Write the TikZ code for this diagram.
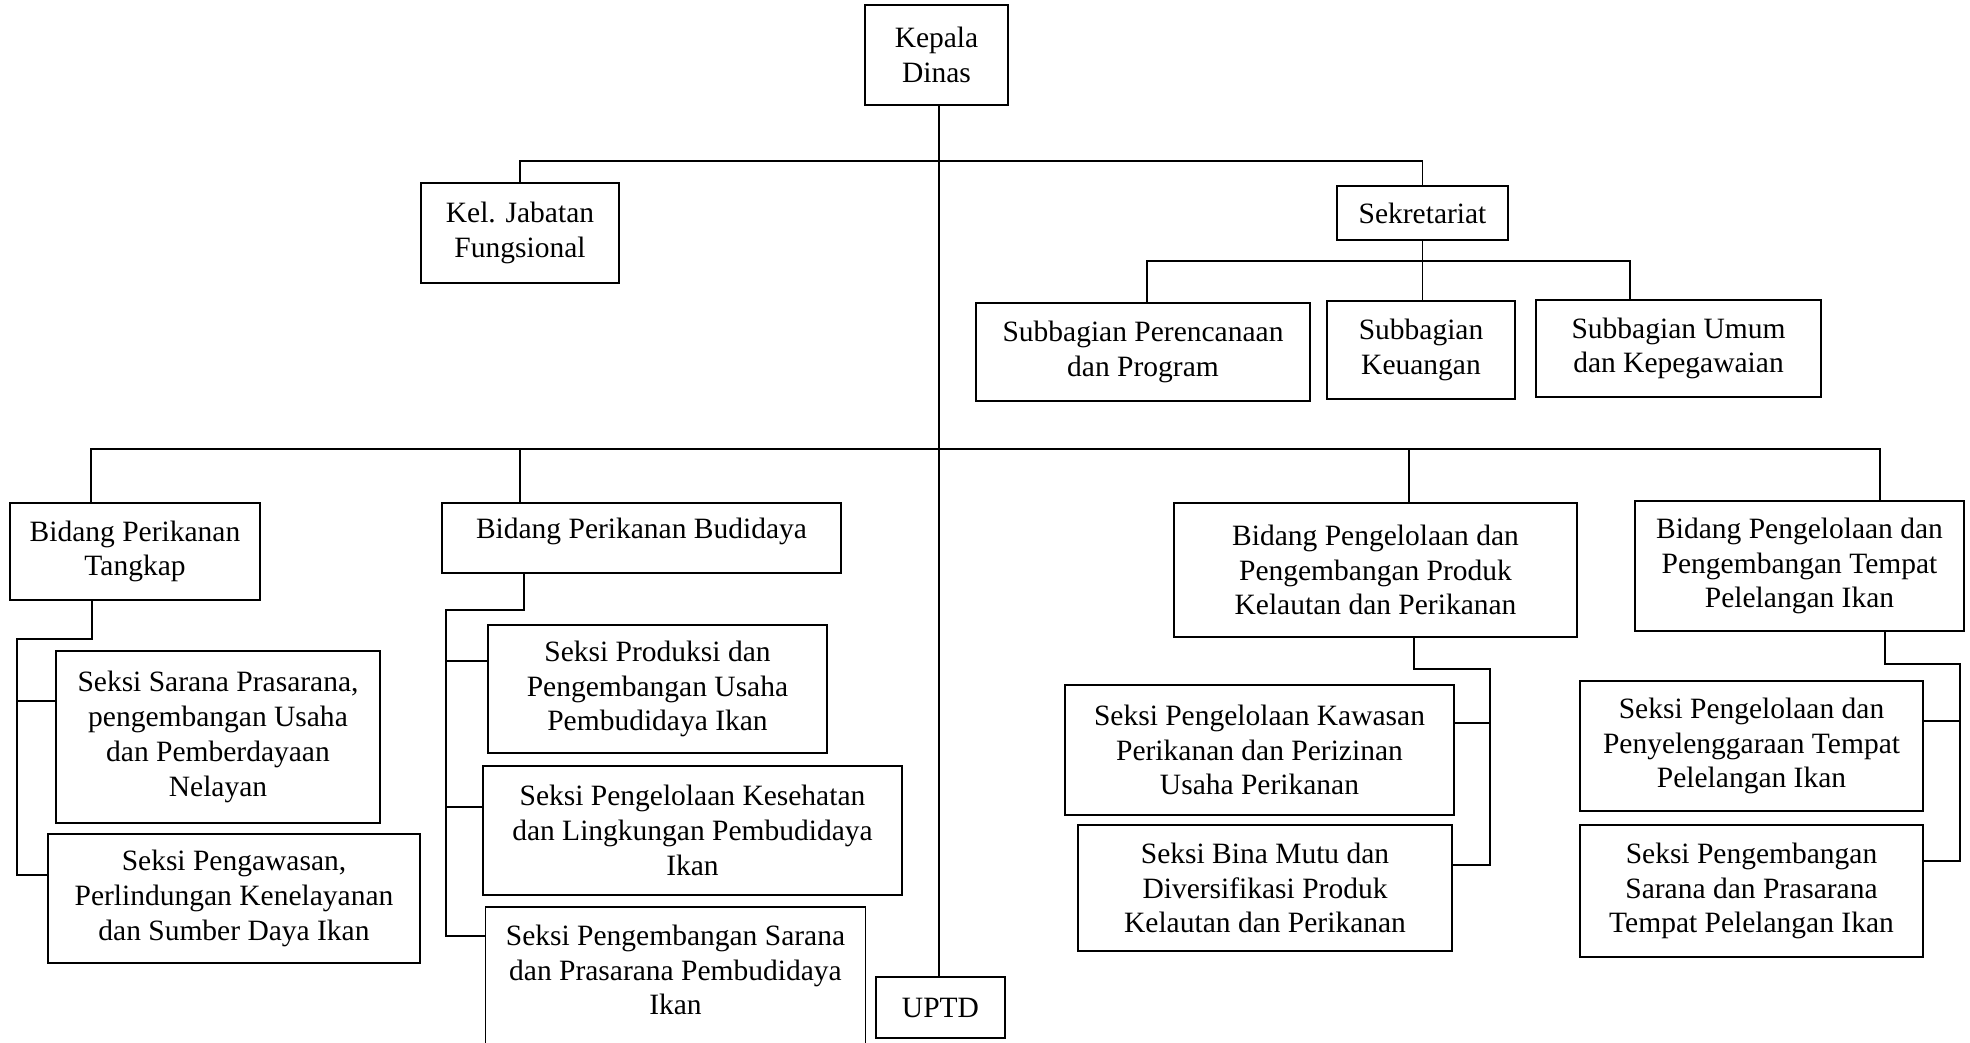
\documentclass[tikz,border=0pt]{standalone}
\usepackage{fontspec}
\setmainfont{Liberation Serif}
\tikzset{
	box/.style={draw, line width=0.6pt, align=center, inner sep=0pt},
	sz/.style 2 args={minimum width=#1*0.4pt, minimum height=#2*0.4pt},
}
\begin{document}
\begin{tikzpicture}[x=0.4pt, y=-0.4pt, line width=0.5pt, font=\fontsize{11.8pt}{13.9pt}\selectfont]
	\useasboundingbox (0,0) rectangle (1970,1042);

	% Define Kepala Dinas and UPTD
	\node[box, sz={143}{100}] (Kepala) at (936.5,55) {Kepala\\Dinas};
	\node[box, sz={129}{61}] (UPTD) at (940.5,1007.5) {UPTD};
	\coordinate (TopBus) at (939,161);
	\coordinate (MainBus) at (939,449);

	\draw (Kepala.south -| 939,0) -- (UPTD.north -| 939,0);

	% Define Kel. Jabatan and Sekretariat
	\node[box, sz={198}{100}] (Kel) at (520,233) {Kel. Jabatan\\Fungsional};
	\node[box, sz={171}{54}] (Sekretariat) at (1422.5,213) {Sekretariat};

	\draw (Kel.north) |- (TopBus) -| (Sekretariat.north);

	% Define Subbagian
	\node[box, sz={334}{98}] (SubProgram) at (1143,352) {Subbagian Perencanaan\\dan Program};
	\node[box, sz={188}{98}] (SubKeuangan) at (1421,350) {Subbagian\\Keuangan};
	\node[box, sz={285}{97}] (SubUmum) at (1678.5,348.5) {Subbagian Umum\\dan Kepegawaian};
	\coordinate (SubBus) at (1422,261);

	\draw (Sekretariat.south) -- (Sekretariat.south |- SubKeuangan.north);
	\draw (SubProgram.north -| 1147,0) |- (SubBus) -| (SubUmum.north -| 1630,0);

	% Define Bidang
	\node[box, sz={250}{97}] (Tangkap) at (135,551.5) {Bidang Perikanan\\Tangkap};
	\node[box, sz={399}{70}, text depth=7.5pt] (Budidaya) at (641.5,538) {Bidang Perikanan Budidaya};
	\node[box, sz={403}{134}] (Produk) at (1375.5,570) {Bidang Pengelolaan dan\\Pengembangan Produk\\Kelautan dan Perikanan};
	\node[box, sz={329}{130}] (TPI) at (1799.5,566) {Bidang Pengelolaan dan\\Pengembangan Tempat\\Pelelangan Ikan};

	\draw (Tangkap.north -| 91,0) |- (MainBus) -| (TPI.north -| 1880,0);
	\draw (Budidaya.north -| 520,0) -- (MainBus -| 520,0);
	\draw (Produk.north -| 1409,0) -- (MainBus -| 1409,0);

	% Define Seksi under Tangkap
	\node[box, sz={324}{172}] (Sarana) at (218,737) {Seksi Sarana Prasarana,\\pengembangan Usaha\\dan Pemberdayaan\\Nelayan};
	\node[box, sz={372}{129}] (Pengawasan) at (234,898.5) {Seksi Pengawasan,\\Perlindungan Kenelayanan\\dan Sumber Daya Ikan};
	\coordinate (TkBend) at (17,639);

	\draw (Tangkap.south -| 92,0) |- (TkBend) |- (Pengawasan.west |- 0,875);
	\draw (TkBend |- 0,701) -- (Sarana.west |- 0,701);

	% Define Seksi under Budidaya
	\node[box, sz={339}{128}] (Produksi) at (657.5,689) {Seksi Produksi dan\\Pengembangan Usaha\\Pembudidaya Ikan};
	\node[box, sz={419}{129}] (Kesehatan) at (692.5,830.5) {Seksi Pengelolaan Kesehatan\\dan Lingkungan Pembudidaya\\Ikan};
	\node[align=center, inner sep=0pt, sz={379}{0}] (SaranaBud) at (675.5,970) {Seksi Pengembangan Sarana\\dan Prasarana Pembudidaya\\Ikan};
	\coordinate (BdBend) at (446,610);

	\draw[line width=0.6pt] (SaranaBud.west |- 0,1045) |- (SaranaBud.east |- 0,907) -- (SaranaBud.east |- 0,1045);
	\draw (Budidaya.south -| 524,0) |- (BdBend) |- (SaranaBud.west |- 0,936);
	\draw (BdBend |- 0,661) -- (Produksi.west |- 0,661);
	\draw (BdBend |- 0,807) -- (Kesehatan.west |- 0,807);

	% Define Seksi under Produk
	\node[box, sz={389}{130}] (Kawasan) at (1259.5,750) {Seksi Pengelolaan Kawasan\\Perikanan dan Perizinan\\Usaha Perikanan};
	\node[box, sz={374}{126}] (BinaMutu) at (1265,888) {Seksi Bina Mutu dan\\Diversifikasi Produk\\Kelautan dan Perikanan};
	\coordinate (PdBend) at (1490,669);

	\draw (Produk.south -| 1414,0) |- (PdBend) |- (BinaMutu.east |- 0,865);
	\draw (PdBend |- 0,723) -- (Kawasan.east |- 0,723);

	% Define Seksi under TPI
	\node[box, sz={343}{130}] (Penyelenggaraan) at (1751.5,746) {Seksi Pengelolaan dan\\Penyelenggaraan Tempat\\Pelelangan Ikan};
	\node[box, sz={343}{132}] (SaranaTPI) at (1751.5,891) {Seksi Pengembangan\\Sarana dan Prasarana\\Tempat Pelelangan Ikan};
	\coordinate (TpBend) at (1960,664);

	\draw (TPI.south -| 1885,0) |- (TpBend) |- (SaranaTPI.east |- 0,861);
	\draw (TpBend |- 0,721) -- (Penyelenggaraan.east |- 0,721);
\end{tikzpicture}
\end{document}
